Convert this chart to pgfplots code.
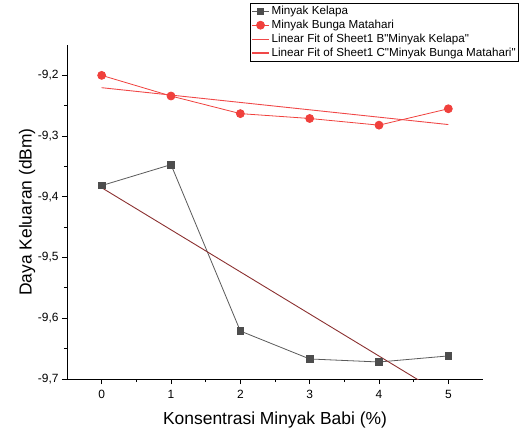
\documentclass[border=0pt]{standalone}
\usepackage{fontspec}
\setmainfont{Liberation Sans}
\usepackage{pgfplots}
\pgfplotsset{compat=1.18}
\definecolor{kel}{HTML}{4D4D4D}
\definecolor{kelline}{HTML}{5A5A5A}
\definecolor{bun}{HTML}{F0403C}
\definecolor{fitred}{HTML}{F04848}
\definecolor{fitbrown}{HTML}{8B3030}
\begin{document}
\begin{tikzpicture}
\begin{axis}[
  at={(0,0)}, anchor=south west,
  scale only axis,
  width=416bp, height=334bp,
  xmin=-0.5, xmax=5.5,
  ymin=-9.7, ymax=-9.15,
  axis x line*=bottom, axis y line*=left,
  axis line style={line width=0.9pt},
  xtick={0,1,2,3,4,5},
  xticklabels={0,1,2,3,4,5},
  ytick={-9.7,-9.6,-9.5,-9.4,-9.3,-9.2},
  yticklabels={{-9,7},{-9,6},{-9,5},{-9,4},{-9,3},{-9,2}},
  minor x tick num=1, minor y tick num=1,
  tick align=outside,
  major tick length=5bp, minor tick length=3bp,
  every tick/.style={black, line width=0.9pt},
  tick label style={font=\fontsize{12}{14}\selectfont},
  xticklabel style={yshift=-3bp},
  label style={font=\fontsize{17.5}{20}\selectfont},
  xlabel={Konsentrasi Minyak Babi (\%)},
  ylabel={Daya Keluaran (dBm)},
  xlabel style={at={(rel axis cs:0.5,0)}, anchor=center, yshift=-41bp},
  ylabel style={at={(rel axis cs:0,0.5)}, anchor=center, yshift=40bp},
  legend style={at={(rel axis cs:0.44,1.126)}, anchor=north west,
    font=\fontsize{11.7}{13.5}\selectfont, draw=black, line width=0.8pt,
    inner sep=1pt, row sep=0pt},
  legend cell align=left,
  clip=true,
]
\addplot[color=kelline, line width=0.8pt, mark=square*, mark size=3.3pt,
  mark options={fill=kel, draw=kel}] coordinates {
  (0,-9.3815) (1,-9.347) (2,-9.621) (3,-9.667) (4,-9.672) (5,-9.662)};
\addlegendentry{Minyak Kelapa}
\addplot[color=bun, line width=0.8pt, mark=*, mark size=4pt,
  mark options={fill=bun, draw=bun}] coordinates {
  (0,-9.200) (1,-9.234) (2,-9.263) (3,-9.271) (4,-9.282) (5,-9.255)};
\addlegendentry{Minyak Bunga Matahari}
\addplot[color=fitbrown, line width=0.9pt,
  legend image code/.code={\draw[draw=fitred, line width=1.2pt] (0cm,0cm) -- (0.6cm,0cm);}]
  coordinates {(0,-9.385) (5,-9.7315)};
\addlegendentry{Linear Fit of Sheet1 B\textquotedbl Minyak Kelapa\textquotedbl}
\addplot[color=fitred, line width=0.9pt,
  legend image code/.code={\draw[draw=fitred, line width=1.2pt] (0cm,0cm) -- (0.6cm,0cm);}]
  coordinates {(0,-9.2203) (5,-9.281)};
\addlegendentry{Linear Fit of Sheet1 C\textquotedbl Minyak Bunga Matahari\textquotedbl}
\end{axis}
\pgfresetboundingbox
\useasboundingbox (-67bp,-55bp) rectangle (458bp,379bp);
\end{tikzpicture}
\end{document}
